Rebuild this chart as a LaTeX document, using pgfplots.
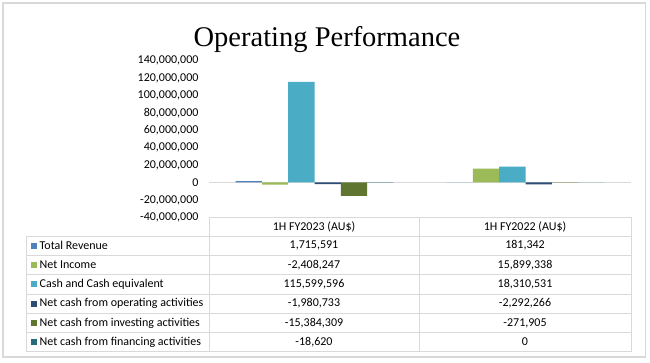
\documentclass[border=0pt]{standalone}
\usepackage{pgfplots}
\pgfplotsset{compat=1.18}
\usepackage{fontspec}
\setmainfont{Carlito}
\newfontfamily\titlefont{Liberation Serif}
\definecolor{cRev}{HTML}{4F81BD}
\definecolor{cNet}{HTML}{9BBB59}
\definecolor{cCash}{HTML}{4BACC6}
\definecolor{cOp}{HTML}{2C4D75}
\definecolor{cInv}{HTML}{5F7530}
\definecolor{cFin}{HTML}{276A7C}
\definecolor{grid}{HTML}{D9D9D9}
\begin{document}
\begin{tikzpicture}
\useasboundingbox (0pt,0pt) rectangle (650pt,-363pt);
\fill[white] (0pt,0pt) rectangle (650pt,-363pt);
\draw[grid, line width=1.5pt] (3pt,-3pt) rectangle (645.5pt,-357pt);
\node[anchor=base, font=\titlefont\fontsize{28.5}{32}\selectfont] at (327pt,-47pt) {Operating Performance};
\begin{axis}[
  at={(209pt,-217.3pt)}, anchor=south west,
  scale only axis, width=422pt, height=156.6pt,
  xmin=-0.5, xmax=1.5, ymin=-40000000, ymax=140000000,
  ybar=0pt, bar width=26.3pt,
  axis line style={draw=none},
  xtick=\empty,
  scaled y ticks=false,
  ytick={-40000000,-20000000,0,20000000,40000000,60000000,80000000,100000000,120000000,140000000},
  yticklabels={{-40,000,000},{-20,000,000},{0},{20,000,000},{40,000,000},{60,000,000},{80,000,000},{100,000,000},{120,000,000},{140,000,000}},
  major tick length=0pt,
  yticklabel style={font=\fontsize{12}{14}\selectfont, xshift=-7pt},
]
\draw[grid, line width=1pt] (axis cs:-0.5,0) -- (axis cs:1.5,0);
\addplot[fill=cRev, draw=none] coordinates {(0,1715591) (1,181342)};
\addplot[fill=cNet, draw=none] coordinates {(0,-2408247) (1,15899338)};
\addplot[fill=cCash, draw=none] coordinates {(0,115599596) (1,18310531)};
\addplot[fill=cOp, draw=none] coordinates {(0,-1980733) (1,-2292266)};
\addplot[fill=cInv, draw=none] coordinates {(0,-15384309) (1,-271905)};
\addplot[fill=cFin, draw=none] coordinates {(0,-18620) (1,0)};
\end{axis}
\begin{scope}[x=1pt, y=-1pt, font=\fontsize{12}{14}\selectfont]
  % table grid
  \draw[grid, line width=0.8pt] (209,217.5) -- (631,217.5);
  \foreach \yy in {236,255.3,274.6,293.9,313.2,332.4,351.7}
    \draw[grid, line width=0.8pt] (26.7,\yy) -- (631,\yy);
  \draw[grid, line width=0.8pt] (26.7,236) -- (26.7,351.7);
  \foreach \xx in {209,419.3,631}
    \draw[grid, line width=0.8pt] (\xx,217.5) -- (\xx,351.7);
  % header
  \node at (314,226.8) {1H FY2023 (AU\$)};
  \node at (525,226.8) {1H FY2022 (AU\$)};
  % legend keys
  \foreach \c/\yc in {cRev/245.6,cNet/265,cCash/284.3,cOp/303.6,cInv/322.9,cFin/342.1}
    \fill[\c] (31,\yc-3) rectangle (37,\yc+3);
  % row labels
  \node[anchor=west, inner sep=0pt] at (39.5,245.6) {Total Revenue};
  \node[anchor=west, inner sep=0pt] at (39.5,265) {Net Income};
  \node[anchor=west, inner sep=0pt] at (39.5,284.3) {Cash and Cash equivalent};
  \node[anchor=west, inner sep=0pt] at (39.5,303.6) {Net cash from operating activities};
  \node[anchor=west, inner sep=0pt] at (39.5,322.9) {Net cash from investing activities};
  \node[anchor=west, inner sep=0pt] at (39.5,342.1) {Net cash from financing activities};
  % values
  \node at (314,245.6) {1,715,591};
  \node at (525,245.6) {181,342};
  \node at (314,265) {-2,408,247};
  \node at (525,265) {15,899,338};
  \node at (314,284.3) {115,599,596};
  \node at (525,284.3) {18,310,531};
  \node at (314,303.6) {-1,980,733};
  \node at (525,303.6) {-2,292,266};
  \node at (314,322.9) {-15,384,309};
  \node at (525,322.9) {-271,905};
  \node at (314,342.1) {-18,620};
  \node at (525,342.1) {0};
\end{scope}
\end{tikzpicture}
\end{document}
